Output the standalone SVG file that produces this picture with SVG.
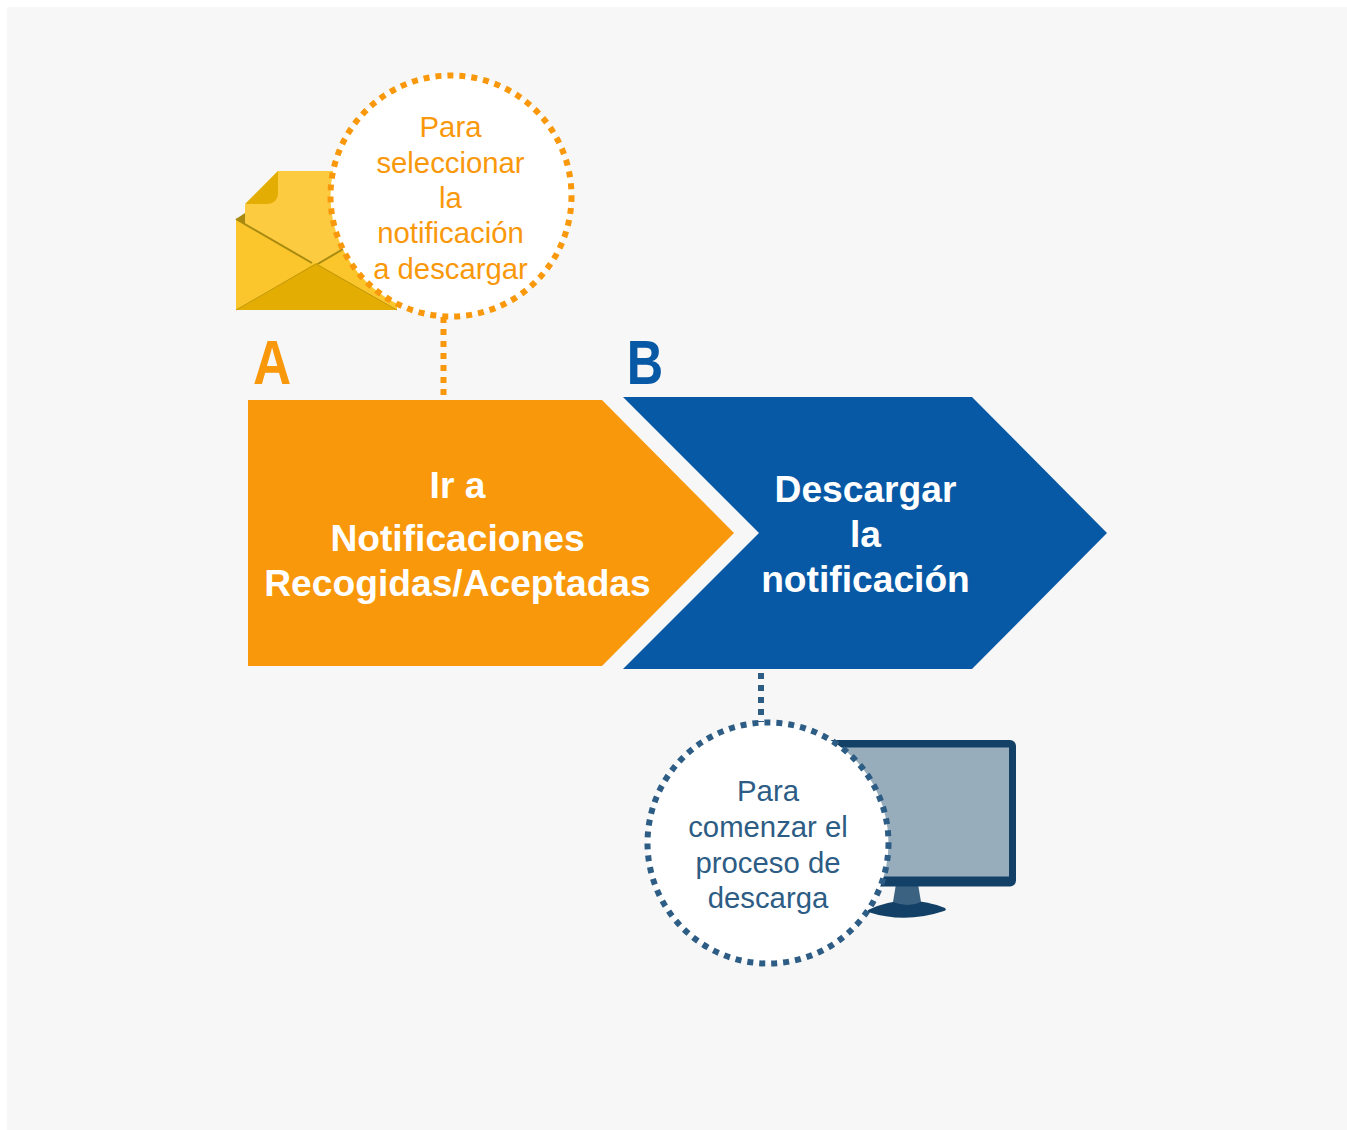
<svg xmlns="http://www.w3.org/2000/svg" width="1347" height="1130" viewBox="0 0 1347 1130">
<style>
text{font-family:"Liberation Sans",Arial,sans-serif;text-anchor:middle}
.t{font-size:29.3px}
.b{font-size:37.2px;font-weight:bold;fill:#fff}
.o{fill:#f9980a}
.n{fill:#2d5c84}
.dO{fill:none;stroke:#f9980a;stroke-width:6;stroke-dasharray:6 6}
.dB{fill:none;stroke:#2d5c84;stroke-width:6;stroke-dasharray:6 6}
.cf{fill:#fff}
.L{font-size:63px;font-weight:bold}
</style>
<rect width="1347" height="1130" fill="#fff"/>
<rect x="7" y="7" width="1340" height="1123" fill="#f7f7f7"/>
<g id="connectors">
<path class="dO" d="M443.500 317V397"/>
<path class="dB" d="M761 673V722"/>
</g>
<g id="envelope">
<path d="M236 219L245 213V240H236Z" fill="#a98a10"/>
<path d="M245 205L278 171H350V300H245Z" fill="#fccb40"/>
<path d="M245 204H266Q278 204 278 192V171Z" fill="#e4ad03"/>
<path d="M316 265L397 219V310Z" fill="#fbc62b"/>
<path d="M236 219L316 265L397 310H236Z" fill="#fbc62b"/>
<path d="M236 219L312 263" fill="none" stroke="#a98a10" stroke-width="2"/>
<path d="M316 265L350 245" fill="none" stroke="#a98a10" stroke-width="2"/>
<path d="M236 310L316 263L397 310Z" fill="#e4ad03"/>
<path d="M236 310L316 264L397 310" fill="none" stroke="#c29a10" stroke-width="1"/>
</g>
<g id="monitor">
<path d="M868 910Q905 892 945 908Q947 910 944 911Q905 924 868 912Z" fill="#134066"/>
<path d="M896 884H918L921 902Q908 908 893 902Z" fill="#3b6280"/>
<rect x="810" y="740" width="206" height="146.500" rx="6" fill="#134066"/>
<rect x="817" y="747.500" width="192" height="129" fill="#98adbc"/>
</g>
<g id="callout-a">
<circle class="cf dO" cx="451" cy="196" r="120.500"/>
<text class="t o" x="450.500" y="137">Para</text>
<text class="t o" x="450.500" y="172.500">seleccionar</text>
<text class="t o" x="450.500" y="208">la</text>
<text class="t o" x="450.500" y="242.500">notificación</text>
<text class="t o" x="450.500" y="278.500">a descargar</text>
</g>
<g id="callout-b">
<circle class="cf dB" cx="768" cy="843" r="120.500"/>
<text class="t n" x="768" y="801">Para</text>
<text class="t n" x="768" y="836.500">comenzar el</text>
<text class="t n" x="768" y="872.500">proceso de</text>
<text class="t n" x="768" y="907.500">descarga</text>
</g>
<g id="step-a">
<path d="M248 400H602L734 533L602 666H248Z" fill="#f9980a"/>
<text class="L o" transform="translate(272 384) scale(.84 1)">A</text>
<text class="b" x="457.500" y="498">Ir a</text>
<text class="b" x="457.500" y="551">Notificaciones</text>
<text class="b" x="457.500" y="596">Recogidas/Aceptadas</text>
</g>
<g id="step-b">
<path d="M623 397H972L1107 533L972 669H623L759 533Z" fill="#0859a5"/>
<text class="L" transform="translate(645 384) scale(.8 1)" fill="#0859a5">B</text>
<text class="b" x="865.500" y="502">Descargar</text>
<text class="b" x="865.500" y="547">la</text>
<text class="b" x="865.500" y="592">notificación</text>
</g>
</svg>
